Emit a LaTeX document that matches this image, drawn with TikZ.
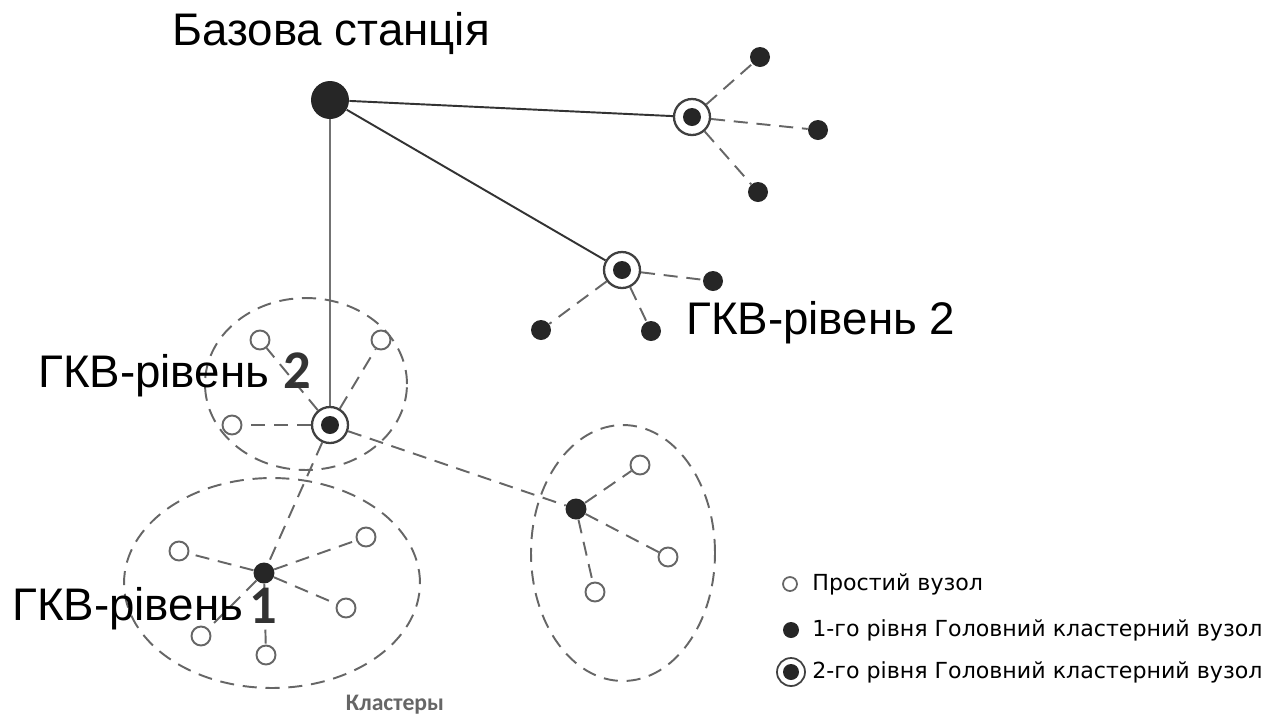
\documentclass[tikz,border=0pt]{standalone}
\usepackage{fontspec}
\setmainfont{Liberation Sans}
\newfontfamily\legendfont{DejaVu Sans}
\newfontfamily\numfont{Carlito}
\usepackage{tikz}
\usetikzlibrary{calc, positioning, backgrounds}

\begin{document}
\begin{tikzpicture}[
  x=0.02cm, y=-0.02cm,
  base/.style={circle, fill=black!85, inner sep=0pt, minimum size=0.76cm},
  leaf/.style={circle, draw=black!60, line width=1.1pt, fill=white, inner sep=0pt, minimum size=0.38cm},
  dot/.style={circle, fill=black!85, inner sep=0pt, minimum size=0.4cm},
  head1/.style={circle, fill=black!85, inner sep=0pt, minimum size=0.42cm},
  head2/.style={
    circle,
    draw=black!75,
    line width=1.3pt,
    fill=white,
    inner sep=0pt,
    minimum size=0.72cm,
    path picture={\fill[black!85] (path picture bounding box.center) circle (0.18cm);}
    },
  link/.style={line width=1.1pt, black!80},
  dlink/.style={line width=1.1pt, black!60, dash pattern=on 8pt off 5pt},
  cluster/.style={line width=1.1pt, black!60, dash pattern=on 8pt off 5pt},
  biglabel/.style={anchor=base west, inner sep=0pt, font=\fontsize{26}{30}\selectfont},
  bignum/.style={anchor=base west, inner sep=0pt, text=black!80, font=\numfont\bfseries\fontsize{31}{32}\selectfont},
  legtext/.style={anchor=west, inner sep=0pt, font=\legendfont\fontsize{12.6}{14}\selectfont}
]
\useasboundingbox (0,0) rectangle (1276,718);

% Clusters
\draw[cluster] (306,384) ellipse (2.02cm and 1.72cm);
\draw[cluster] (272,583) ellipse (2.96cm and 2.1cm);
\draw[cluster] (623,553) ellipse (1.84cm and 2.56cm);

% Base station and cluster heads
\node[base] (bs) at (330,100) {};
\node[head2] (ha) at (692,117) {};
\node[head2] (hb) at (622,270) {};
\node[head2] (hc) at (330,425) {};
\node[head1] (hd) at (264,573) {};
\node[head1] (he) at (576,509) {};

% Nodes
\node[dot] (a1) at (760,57) {};
\node[dot] (a2) at (818,130) {};
\node[dot] (a3) at (758,192) {};
\node[dot] (b1) at (713,281) {};
\node[dot] (b2) at (541,330) {};
\node[dot] (b3) at (651,331) {};
\node[leaf] (c1) at (260,340) {};
\node[leaf] (c2) at (381,340) {};
\node[leaf] (c3) at (232,425) {};
\node[leaf] (d1) at (179,551) {};
\node[leaf] (d2) at (366,537) {};
\node[leaf] (d3) at (346,608) {};
\node[leaf] (d4) at (201,636) {};
\node[leaf] (d5) at (266,655) {};
\node[leaf] (e1) at (640,465) {};
\node[leaf] (e2) at (668,557) {};
\node[leaf] (e3) at (595,592) {};

\begin{scope}[on background layer]
  \draw[link] (bs) -- (ha);
  \draw[link] (bs) -- (hb);
  \draw[link, black!55] (bs) -- (hc);
  \foreach \n in {a1,a2,a3} \draw[dlink] (ha) -- (\n);
  \foreach \n in {b1,b2,b3} \draw[dlink] (hb) -- (\n);
  \foreach \n in {c1,c2,c3,hd,he} \draw[dlink] (hc) -- (\n);
  \foreach \n in {d1,d2,d3,d4,d5} \draw[dlink] (hd) -- (\n);
  \foreach \n in {e1,e2,e3} \draw[dlink] (he) -- (\n);
\end{scope}

% Labels
\node[biglabel] (bslabel) at (172,45) {Базова станція};
\node[biglabel] (lvl2a) at (686,334) {ГКВ-рівень 2};
\node[biglabel] (lvl2b) at (38,387) {ГКВ-рівень};
\node[bignum] (lvl2bnum) at (283,388) {2};
\node[biglabel] (lvl1) at (12,620) {ГКВ-рівень};
\node[bignum] (lvl1num) at (249,623) {1};
\node[anchor=base, inner sep=0pt, text=black!60, font=\numfont\bfseries\fontsize{13.5}{15}\selectfont] (clusters) at (395,710) {Кластеры};

% Legend
\node[leaf, minimum size=0.28cm, line width=1pt] (legleaf) at (790,584) {};
\node[head1, minimum size=0.32cm] (leghead1) at (791,630) {};
\node[head2, minimum size=0.56cm, line width=1pt, path picture={\fill[black!85] (path picture bounding box.center) circle (0.16cm);}] (leghead2) at (791,672) {};
\node[legtext] (legleaftext) at (812,584) {Простий вузол};
\node[legtext] (leghead1text) at (812,630) {1-го рівня Головний кластерний вузол};
\node[legtext] (leghead2text) at (812,672) {2-го рівня Головний кластерний вузол};

\end{tikzpicture}
\end{document}
